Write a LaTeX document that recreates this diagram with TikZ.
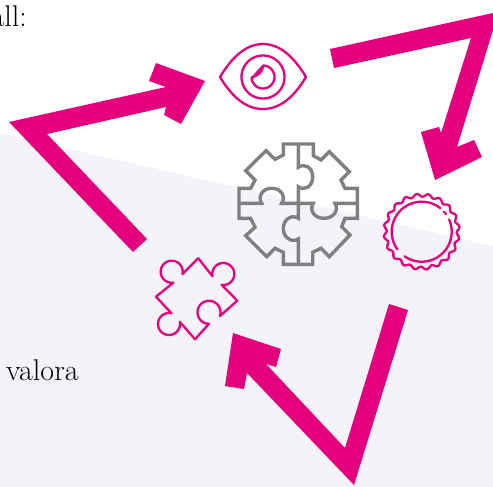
\documentclass[tikz,border=0pt]{standalone}
\definecolor{pinkm}{HTML}{E4007C}
\definecolor{lav}{HTML}{F4F3F9}
\definecolor{grayg}{HTML}{808080}
\tikzset{
  bigarrow/.style={fill=pinkm,draw=none},
  pinkline/.style={draw=pinkm,line width=2.3pt,line join=round,line cap=round},
  grayline/.style={draw=grayg,line width=3.4pt,line join=miter},
  bodytext/.style={inner sep=0pt,text=black,font=\fontsize{30}{33}\selectfont}
}
\begin{document}
\begin{tikzpicture}[x=1pt,y=-1pt]
\useasboundingbox (0,0) rectangle (493,487);
\clip (0,0) rectangle (493,487);
\fill[white] (0,0) rectangle (493,487);
\fill[lav] (0,133) -- (493,246) -- (493,487) -- (0,487) -- cycle;
% text
\node[bodytext,anchor=base east] (topword) at (27,27) {all:};
\node[bodytext,anchor=base west] (valora) at (6,380) {valora};
% arrows
\path[bigarrow] (133,252) -- (9,122) -- (166,87) -- (149,81) -- (156,63) -- (205,81) -- (181,124) -- (164,115) -- (166,107) -- (47,134) -- (147,239) -- cycle;
\path[bigarrow] (330,49) -- (493,13) -- (493,30) -- (457,147) -- (474,140) -- (482,157) -- (435,180) -- (421,132) -- (439,127) -- (441,133) -- (471,38) -- (334,68) -- cycle;
\path[bigarrow] (389,304) -- (408,310) -- (354,485) -- (247,373) -- (244,389) -- (225,386) -- (233,333) -- (281,349) -- (276,367) -- (266,364) -- (345,448) -- cycle;
% eye
\draw[pinkline] (220,77) .. controls (232,57) and (246,44) .. (263,44) .. controls (280,44) and (294,57) .. (306,77) .. controls (294,97) and (280,109) .. (263,109) .. controls (246,109) and (232,97) .. (220,77) -- cycle;
\draw[pinkline] plot[domain=0:360,samples=73] ({263+21.5*cos(\x)},{77-21.5*sin(\x)}) -- cycle;
\draw[pinkline] (263.3,65.7) .. controls (263,71) and (258,76) .. (251.5,77.5) plot[domain=188:448,samples=40] ({263+11.5*cos(\x)},{77-11.5*sin(\x)}) -- cycle;
% central puzzle gear
\draw[grayline] (283.3,144) -- (313.3,144) -- (313.3,155.7) -- (321,160) -- (329.3,151.7) -- (349.3,171.7) -- (341,180) -- (345,188.3) -- (357.3,188.3) -- (357.3,218.3) -- (345,218.3) -- (341.7,226.7) -- (350,235) -- (329.3,256.7) -- (321,248.3) -- (312.7,252.3) -- (312.7,264.3) -- (283.3,264.3) -- (283.3,252.3) -- (275,248.3) -- (266.7,256.7) -- (245.7,235.7) -- (255,227.3) -- (250.7,218.3) -- (239,218.3) -- (239,188.3) -- (250.7,188.3) -- (255,180) -- (245.7,170.7) -- (266,150.7) -- (275,159.3) -- (283.3,155) -- cycle;
\draw[grayline] (298.3,144) -- (298.3,167.3) .. controls (304,163) and (312.7,167) .. (312.7,177) .. controls (312.7,187) and (304,191) .. (298.3,186.7) -- (298.3,218.3) .. controls (292,214) and (283.3,219) .. (283.3,228.5) .. controls (283.3,238) and (292,243) .. (298.3,239) -- (298.3,264.3);
\draw[grayline] (239,203.3) -- (261.7,203.3) .. controls (257.5,197) and (262,188.3) .. (271.7,188.3) .. controls (281.5,188.3) and (286,197) .. (281.7,203.3) -- (313.3,203.3) .. controls (309,210) and (314,218.3) .. (324,218.3) .. controls (334,218.3) and (339,210) .. (335,203.3) -- (357.3,203.3);
% seal
\draw[pinkline] plot[domain=0:360,samples=361,smooth] ({421.7+(36.5+1.5*cos(20*(\x-97.6)))*cos(\x)},{231.7-(36.5+1.5*cos(20*(\x-97.6)))*sin(\x)}) -- cycle;
\draw[pinkline] plot[domain=24:-125,samples=60] ({421.7+30*cos(\x)},{231.7-30*sin(\x)});
\draw[pinkline] plot[domain=216:52,samples=60] ({421.7+30*cos(\x)},{231.7-30*sin(\x)});
\draw[pinkline] plot[domain=42:36,samples=3] ({421.7+30*cos(\x)},{231.7-30*sin(\x)});
% small puzzle piece
\draw[pinkline] (198.3,258.3) -- plot[domain=192:-99,samples=40] ({223.3+11*cos(\x)},{274-11*sin(\x)}) -- (237.3,300.7) -- plot[domain=-19:270,samples=40] ({209+11.5*cos(\x)},{312.3-11.5*sin(\x)}) -- (195,339.3) -- plot[domain=12:-283,samples=40] ({169+11*cos(\x)},{324-11*sin(\x)}) -- (156,296.7) -- plot[domain=-81:-373,samples=40] ({171.7+11*cos(\x)},{271.7-11*sin(\x)}) -- cycle;
\end{tikzpicture}
\end{document}
